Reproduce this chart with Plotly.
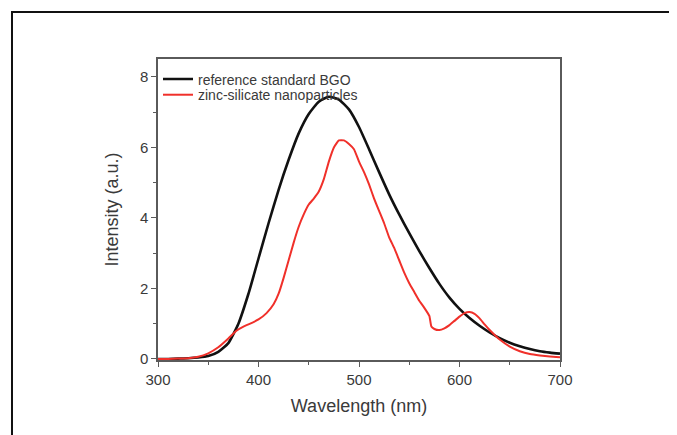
import plotly.graph_objects as go

# Black: reference standard BGO
bgo_wl = [300, 310, 320, 330, 340, 350, 360, 370, 380, 390, 400, 410, 420, 430, 440, 450, 460, 470,
          480, 490, 500, 510, 520, 530, 540, 550, 560, 570, 580, 590, 600, 610, 620, 630, 640, 650,
          660, 670, 680, 690, 700]
bgo_int = [0.0, 0.0, 0.01, 0.02, 0.04, 0.08, 0.2, 0.45, 1.0, 1.85, 2.85, 3.85, 4.8, 5.65, 6.4, 6.95,
           7.3, 7.44, 7.36, 7.08, 6.58, 5.95, 5.3, 4.67, 4.1, 3.57, 3.06, 2.58, 2.13, 1.74, 1.42, 1.16,
           0.94, 0.75, 0.59, 0.46, 0.36, 0.28, 0.22, 0.18, 0.15]

# Red: zinc-silicate nanoparticles
zs_wl = [300, 310, 320, 330, 340, 350, 360, 370, 378, 385, 390, 400, 408, 415, 420, 425, 430, 435, 440,
         445, 450, 455, 460, 465, 470, 475, 480, 485, 490, 495, 500, 505, 510, 515, 520, 525, 530, 535,
         540, 545, 550, 555, 560, 565, 570, 572, 575, 580, 585, 590, 595, 600, 605, 610, 615, 620, 625,
         630, 635, 640, 650, 660, 670, 680, 690, 700]
zs_int = [0.0, 0.0, 0.01, 0.02, 0.06, 0.16, 0.33, 0.58, 0.8, 0.92, 0.98, 1.12, 1.3, 1.55, 1.85, 2.3,
          2.8, 3.3, 3.75, 4.1, 4.38, 4.55, 4.75, 5.1, 5.6, 6.0, 6.2, 6.2, 6.1, 5.95, 5.6, 5.3, 4.95, 4.55,
          4.2, 3.85, 3.45, 3.15, 2.8, 2.45, 2.15, 1.9, 1.65, 1.45, 1.22, 0.92, 0.85, 0.82, 0.87, 0.96,
          1.08, 1.2, 1.3, 1.33, 1.28, 1.15, 0.98, 0.82, 0.68, 0.55, 0.35, 0.22, 0.14, 0.1, 0.07, 0.05]

x_ticks = [300, 400, 500, 600, 700]
y_ticks = [0, 2, 4, 6, 8]

font_family = "Liberation Sans, Arial, sans-serif"
axis_color = "#5a5a5a"
text_color = "#3a3a3a"

fig = go.Figure()
fig.add_trace(go.Scatter(x=bgo_wl, y=bgo_int, mode="lines", name="reference standard BGO",
                         legend="legend",
                         line=dict(color="#111111", width=2.6, shape="spline", smoothing=0.5)))
fig.add_trace(go.Scatter(x=zs_wl, y=zs_int, mode="lines", name="zinc-silicate nanoparticles",
                         legend="legend2",
                         line=dict(color="#f0302a", width=2, shape="spline", smoothing=0.4)))

legend_common = dict(x=0.0, xanchor="left", yanchor="middle", bgcolor="rgba(0,0,0,0)",
                     font=dict(size=14, color=text_color), itemwidth=30, borderwidth=0)

fig.update_layout(
    width=677, height=435,
    margin=dict(l=150, r=125, t=51, b=83, pad=0),
    paper_bgcolor="white", plot_bgcolor="white",
    font=dict(family=font_family, color=text_color, size=15),
    showlegend=True,
    legend=dict(y=0.932, **legend_common),
    legend2=dict(y=0.880, **legend_common),
    shapes=[dict(type="rect", xref="paper", yref="paper", x0=-0.3632, x1=1.2761, y0=-0.3, y1=1.1561,
                 line=dict(color="#111111", width=2), fillcolor="rgba(0,0,0,0)", layer="below")],
)

fig.update_xaxes(
    range=[300, 700], tickvals=x_ticks, ticktext=[str(v) for v in x_ticks],
    ticks="outside", ticklen=5, tickwidth=1.3, tickcolor=axis_color,
    minor=dict(dtick=50, tick0=300, ticks="outside", ticklen=3, tickcolor=axis_color, tickwidth=1.2, showgrid=False),
    showline=True, linecolor=axis_color, linewidth=1.5, mirror=True,
    showgrid=False, zeroline=False,
    tickfont=dict(size=15, color=text_color),
    title=dict(text="Wavelength (nm)", font=dict(size=18, color=text_color), standoff=13),
)
fig.update_yaxes(
    range=[-0.03, 8.51], tickvals=y_ticks, ticktext=[str(v) for v in y_ticks],
    ticks="outside", ticklen=5, tickwidth=1.3, tickcolor=axis_color,
    minor=dict(dtick=1, tick0=0, ticks="outside", ticklen=3, tickcolor=axis_color, tickwidth=1.2, showgrid=False),
    showline=True, linecolor=axis_color, linewidth=1.5, mirror=True,
    showgrid=False, zeroline=False,
    tickfont=dict(size=15, color=text_color),
    title=dict(text="Intensity (a.u.)", font=dict(size=18, color=text_color), standoff=17),
)

fig.write_html("out.html")
